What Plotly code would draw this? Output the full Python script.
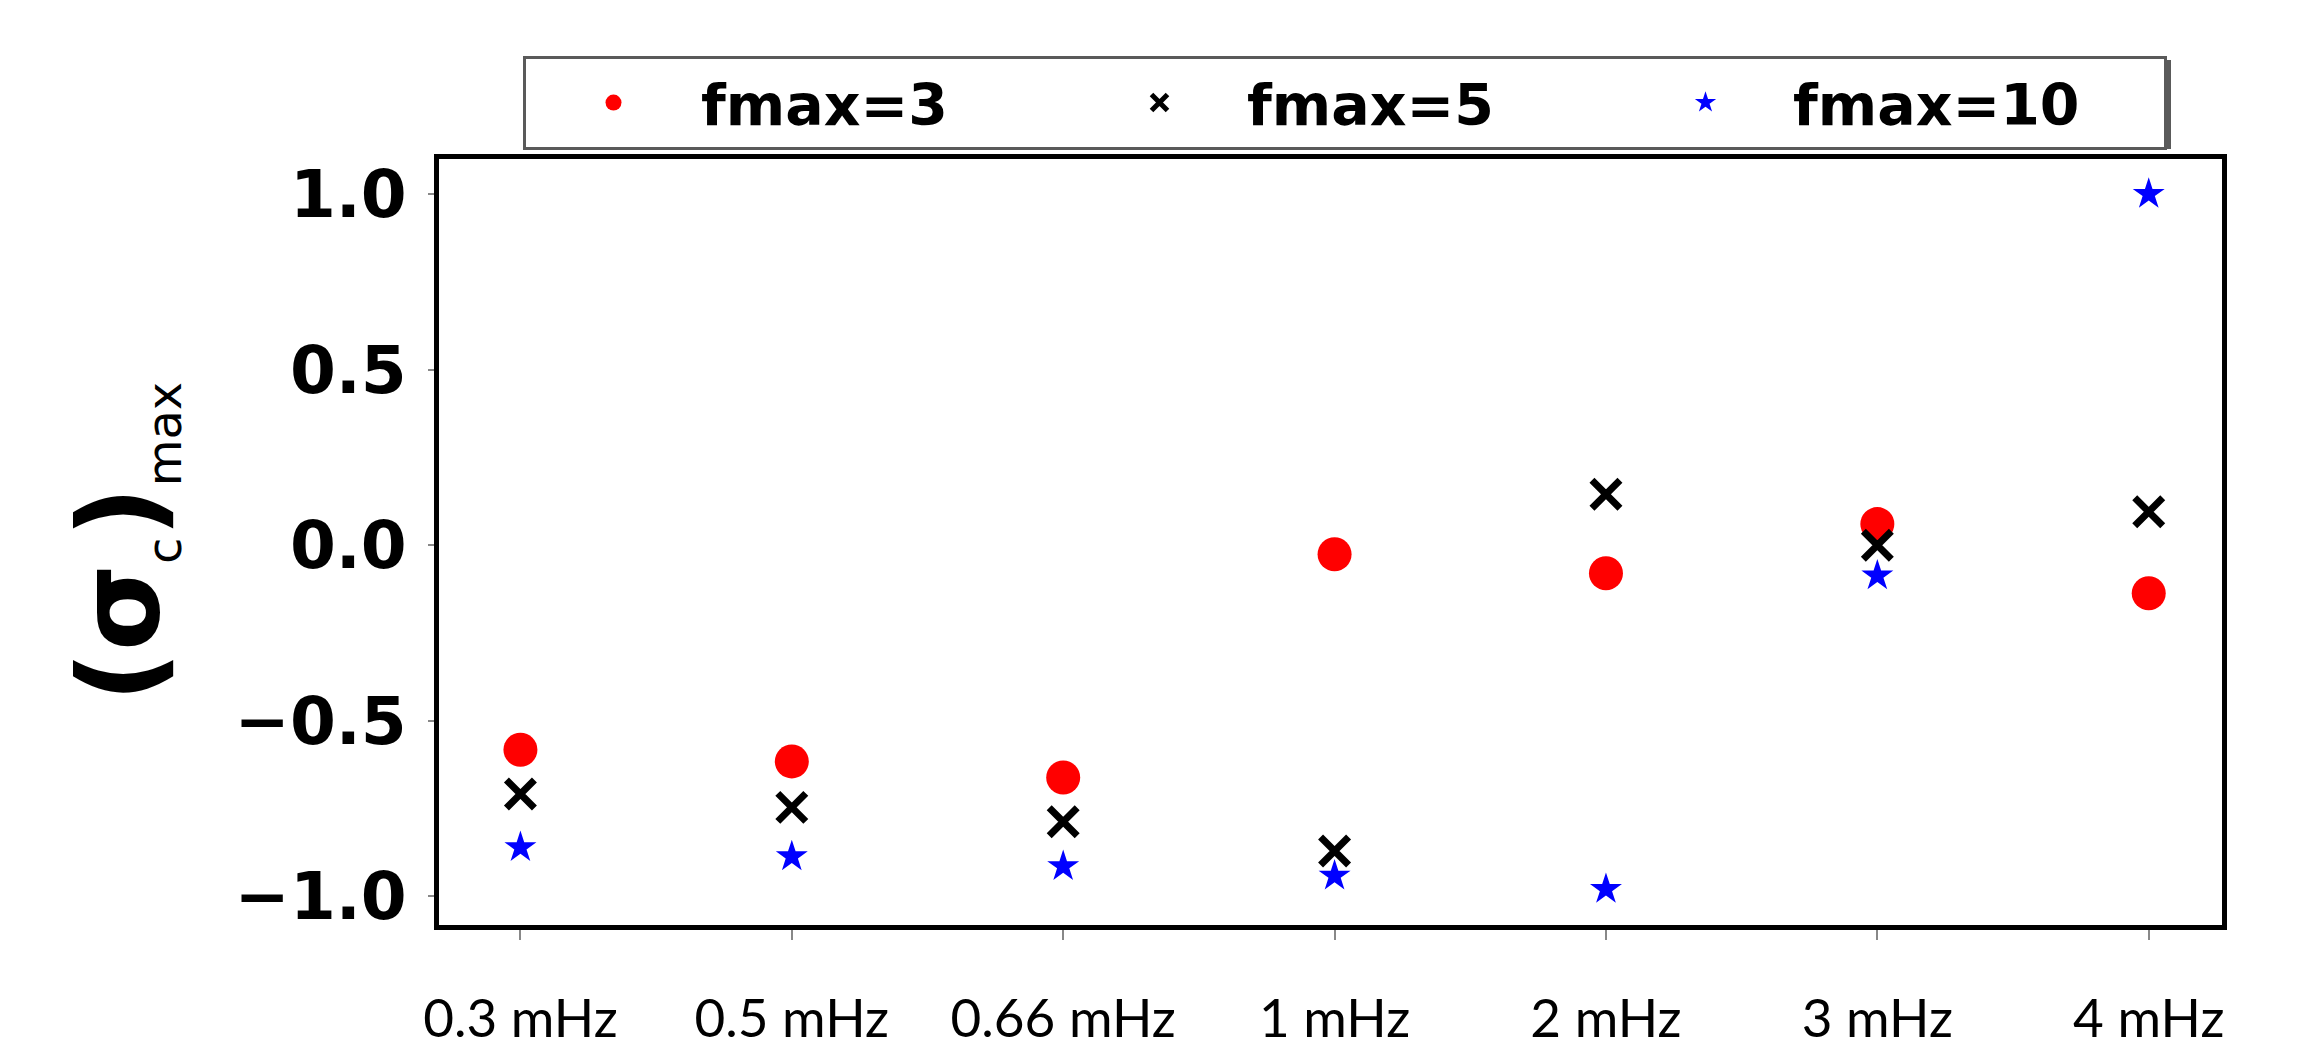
import plotly.graph_objects as go

categories = ["0.3 mHz", "0.5 mHz", "0.66 mHz", "1 mHz", "2 mHz", "3 mHz", "4 mHz"]
fmax3 = [-0.583, -0.616, -0.662, -0.026, -0.080, 0.060, -0.137]
fmax5 = [-0.709, -0.747, -0.788, -0.871, 0.145, 0.000, 0.095]
fmax10 = [-0.861, -0.887, -0.915, -0.942, -0.980, -0.087, 1.000]
series_names = ["fmax=3", "fmax=5", "fmax=10"]
y_ticks = [-1.0, -0.5, 0.0, 0.5, 1.0]
y_tick_labels = ["\u22121.0", "\u22120.5", "0.0", "0.5", "1.0"]

xpos = list(range(len(categories)))

fig = go.Figure()
fig.add_trace(go.Scatter(
    x=xpos, y=fmax3, mode="markers", name=series_names[0],
    marker=dict(symbol="circle", size=34, color="#ff0000", line=dict(width=0)),
))
fig.add_trace(go.Scatter(
    x=xpos, y=fmax5, mode="markers", name=series_names[1],
    marker=dict(symbol="x-thin", size=28, color="#000000",
                line=dict(width=7, color="#000000")),
))
fig.add_trace(go.Scatter(
    x=xpos, y=fmax10, mode="markers", name=series_names[2],
    marker=dict(symbol="star", size=24, color="#0000ff", line=dict(width=0)),
))

L, R, T, B = 439, 99, 159, 124
W, H = 2321, 1049
PW, PH = W - L - R, H - T - B


def px_x(p):
    return (p - L) / PW


def px_y(p):
    return 1 + (T - p) / PH


# legend shadow
fig.add_shape(type="rect", xref="paper", yref="paper",
              x0=px_x(527), x1=px_x(2171),
              y0=px_y(149), y1=px_y(60),
              fillcolor="#5a5a5a", line=dict(width=0), layer="above")

title_text = ('<b>(\u03c3</b><sub><span style="font-size:48px">c</span></sub>'
              '<b>)</b><sub><span style="font-size:48px">max</span></sub>')

fig.update_layout(
    width=W, height=H,
    margin=dict(l=L, r=R, t=T, b=B, pad=0, autoexpand=False),
    paper_bgcolor="white", plot_bgcolor="white",
    showlegend=True,
    legend=dict(
        orientation="h", x=px_x(523), xanchor="left",
        y=px_y(56), yanchor="top",
        bgcolor="white", bordercolor="#5a5a5a", borderwidth=3,
        font=dict(family="DejaVu Sans", size=57, color="black", weight="bold"),
        itemwidth=165, entrywidth=366, entrywidthmode="pixels",
        tracegroupgap=0,
    ),
    xaxis=dict(
        range=[-0.3, 6.27], tickmode="array", tickvals=xpos, ticktext=categories,
        showgrid=False, zeroline=False,
        showline=True, linecolor="black", linewidth=5, mirror=True,
        ticks="outside", ticklen=10, tickwidth=2, tickcolor="#888888",
        tickfont=dict(family="Lato", size=53, color="black"),
        ticklabelstandoff=33,
    ),
    yaxis=dict(
        range=[-1.082, 1.1], tickmode="array", tickvals=y_ticks, ticktext=y_tick_labels,
        showgrid=False, zeroline=False,
        showline=True, linecolor="black", linewidth=5, mirror=True,
        ticks="outside", ticklen=6, tickwidth=2, tickcolor="#888888",
        tickfont=dict(family="DejaVu Sans", size=66, color="black", weight="bold"),
        ticklabelstandoff=8,
        title=dict(text=title_text, standoff=40,
                   font=dict(family="DejaVu Sans", size=112, color="black")),
    ),
)

fig.write_html("out.html")
